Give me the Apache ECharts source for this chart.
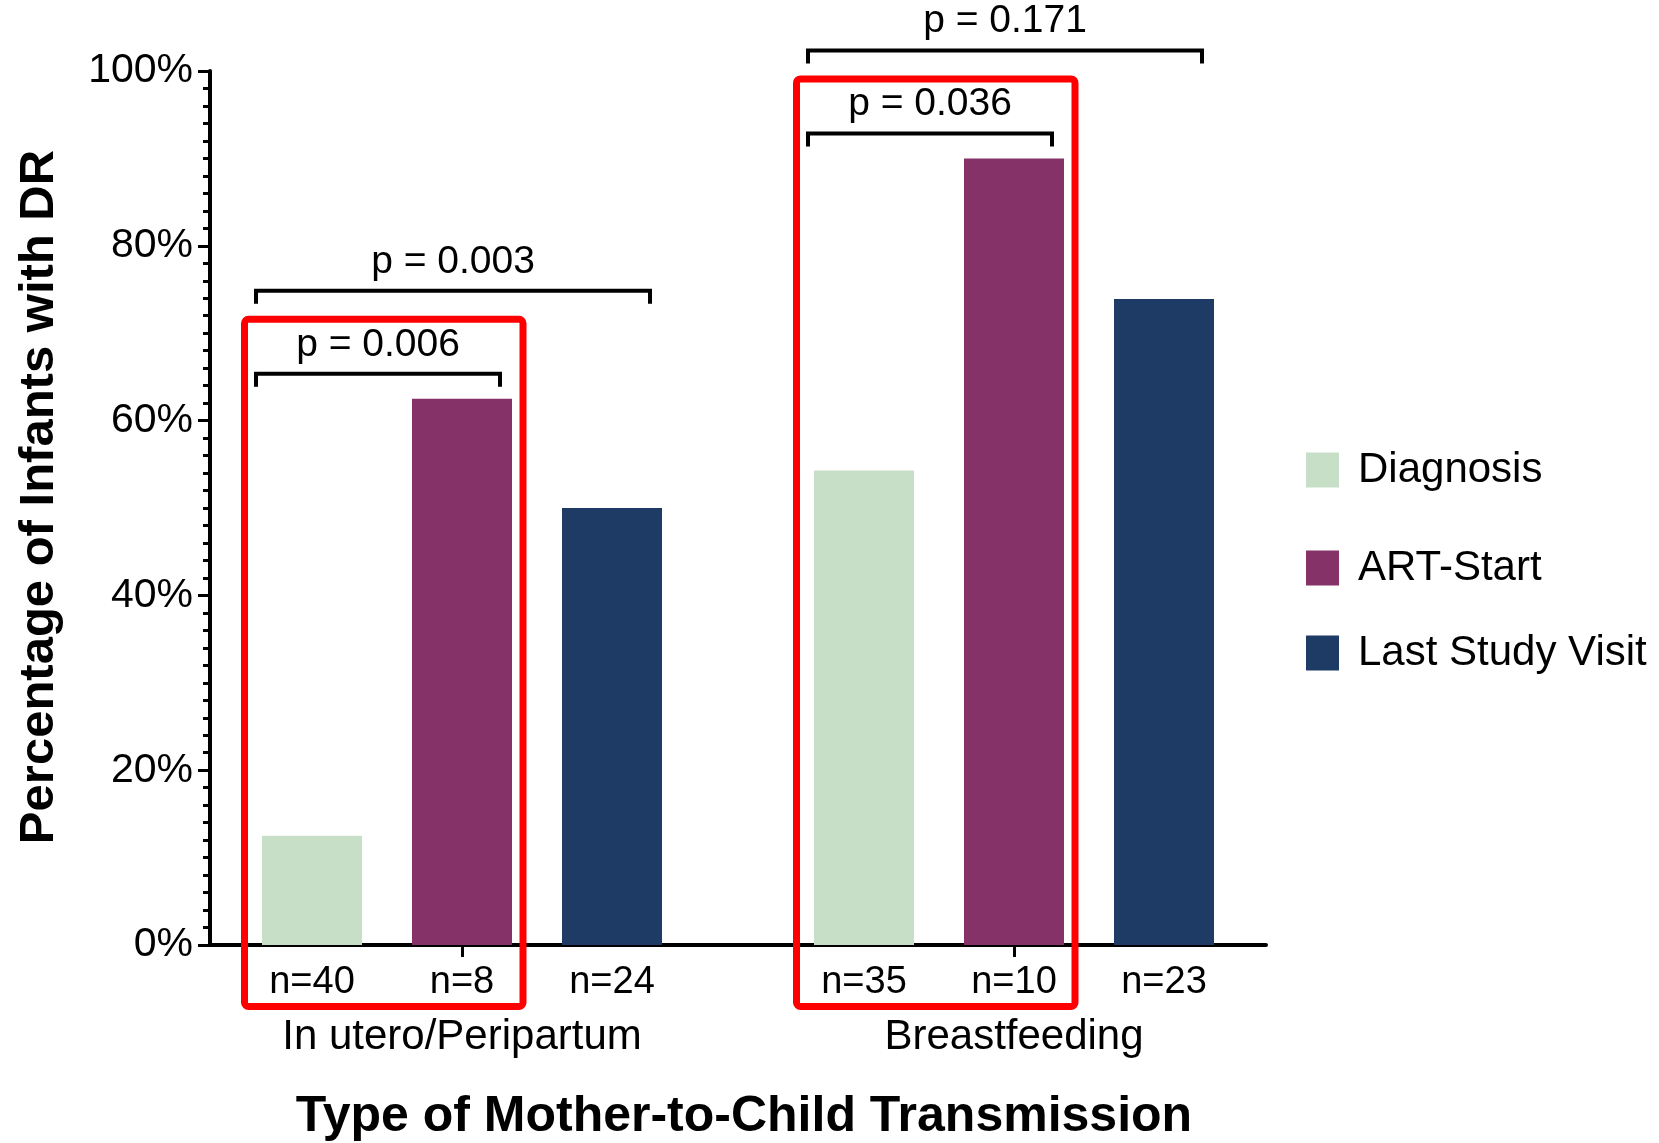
<!DOCTYPE html>
<html>
<head>
<meta charset="utf-8">
<script src="https://cdn.jsdelivr.net/npm/echarts@6/dist/echarts.min.js"></script>
<style>
  html, body { margin: 0; padding: 0; background: #ffffff; }
  #chart { width: 1659px; height: 1143px; }
</style>
</head>
<body>
<div id="chart"></div>
<script>
// ---- data ----
const groups = ['In utero/Peripartum', 'Breastfeeding'];
const seriesNames = ['Diagnosis', 'ART-Start', 'Last Study Visit'];
const diagnosisPct = [12.5, 54.3];
const artStartPct = [62.5, 90.0];
const lastVisitPct = [50.0, 73.9];
const diagnosisN = [40, 35];
const artStartN = [8, 10];
const lastVisitN = [24, 23];
const yTickValues = [0, 20, 40, 60, 80, 100];
// pairwise comparisons: group index, first / last series index, p-value text
const cmpGroup = [0, 0, 1, 1];
const cmpFrom = [0, 0, 0, 0];
const cmpTo = [1, 2, 1, 2];
const cmpText = ['p = 0.006', 'p = 0.003', 'p = 0.036', 'p = 0.171'];
// highlighted pairs framed in red: group index, first / last series index
const boxGroup = [0, 1];
const boxFrom = [0, 0];
const boxTo = [1, 1];

// ---- styling / layout ----
const FONT = "'Liberation Sans', Arial, Helvetica, sans-serif";
const COLORS = ['#C6DFC6', '#853268', '#1D3B64'];
const BAR_W = 100;          // bar width (px)
const BAR_STEP = 150;       // centre-to-centre distance of bars in a group (px)
const LEGEND_TOPS = [449, 547, 632];

const valuesBySeries = [diagnosisPct, artStartPct, lastVisitPct];
const countsBySeries = [diagnosisN, artStartN, lastVisitN];

function barCenterX(api, group, s) {
  const base = api.coord([group, 0]);
  return base[0] + (s - (valuesBySeries.length - 1) / 2) * BAR_STEP;
}
function highestTopY(api, group, from, to) {
  let m = 0;
  for (let s = from; s <= to; s++) m = Math.max(m, valuesBySeries[s][group]);
  return api.coord([group, m])[1];
}

const chart = echarts.init(document.getElementById('chart'), null, { renderer: 'canvas' });

const barSeries = seriesNames.map((name, s) => ({
  type: 'bar',
  name: name,
  xAxisIndex: 1,
  yAxisIndex: 1,
  data: valuesBySeries[s],
  barWidth: BAR_W,
  barGap: '50%',
  itemStyle: { color: COLORS[s] },
  label: {
    show: true,
    position: 'bottom',
    distance: 19,
    fontSize: 38,
    fontFamily: FONT,
    color: '#000',
    formatter: p => 'n=' + countsBySeries[s][p.dataIndex]
  },
  emphasis: { disabled: true }
}));

// significance brackets with their p-values
const bracketSeries = {
  type: 'custom',
  xAxisIndex: 1,
  yAxisIndex: 1,
  clip: false,
  silent: true,
  z: 5,
  data: cmpGroup.map(g => [g, 0]),
  renderItem: (params, api) => {
    const i = params.dataIndex;
    const g = cmpGroup[i], a = cmpFrom[i], b = cmpTo[i];
    const tier = b - a - 1;
    const y = highestTopY(api, g, a, b) - 25 - 83 * tier;
    const xl = barCenterX(api, g, a) - BAR_W / 2 - 6;
    const xr = barCenterX(api, g, b) + BAR_W / 2 - 12;
    return {
      type: 'group',
      children: [
        {
          type: 'polyline',
          shape: { points: [[xl, y + 13], [xl, y], [xr, y], [xr, y + 13]] },
          style: { stroke: '#000', lineWidth: 4, fill: 'none' }
        },
        {
          type: 'text',
          x: (xl + xr) / 2,
          y: y - 29,
          style: {
            text: cmpText[i], fontSize: 39, fontFamily: FONT, fill: '#000',
            align: 'center', verticalAlign: 'middle'
          }
        }
      ]
    };
  }
};

// red frames around the highlighted pairs
const frameSeries = {
  type: 'custom',
  xAxisIndex: 1,
  yAxisIndex: 1,
  clip: false,
  silent: true,
  z: 6,
  data: boxGroup.map(g => [g, 0]),
  renderItem: (params, api) => {
    const i = params.dataIndex;
    const g = boxGroup[i], a = boxFrom[i], b = boxTo[i];
    const top = highestTopY(api, g, a, b) - 25 - 54.5;
    const bottom = api.coord([g, 0])[1] + 61.5;
    const xl = barCenterX(api, g, a) - BAR_W / 2 - 17.5;
    const xr = barCenterX(api, g, b) + BAR_W / 2 + 11;
    return {
      type: 'rect',
      shape: { x: xl, y: top, width: xr - xl, height: bottom - top, r: 4 },
      style: { stroke: '#FF0000', lineWidth: 7, fill: 'none' }
    };
  }
};

const option = {
  animation: false,
  backgroundColor: '#ffffff',
  textStyle: { fontFamily: FONT, color: '#000' },
  grid: [
    { left: 210, right: 393, top: 71, bottom: 198, containLabel: false, outerBoundsMode: 'none' },
    { left: 186, right: 369, top: 71, bottom: 198, containLabel: false, outerBoundsMode: 'none' }
  ],
  legend: seriesNames.map((name, s) => ({
    data: [name],
    left: 1306,
    top: LEGEND_TOPS[s],
    padding: 0,
    orient: 'vertical',
    icon: 'rect',
    itemWidth: 33,
    itemHeight: 35,
    selectedMode: false,
    textStyle: { fontSize: 42, fontFamily: FONT, color: '#000', lineHeight: 35, padding: [0, 0, 0, 14] }
  })),
  xAxis: [
    {
      gridIndex: 0,
      type: 'category',
      data: groups,
      axisLine: { lineStyle: { color: '#000', width: 4 } },
      axisTick: { show: false },
      axisLabel: { show: false },
      splitLine: { show: false },
      name: 'Type of Mother-to-Child Transmission',
      nameLocation: 'middle',
      nameGap: 147,
      nameTextStyle: { fontSize: 50, fontWeight: 'bold', fontFamily: FONT, color: '#000', padding: [0, 0, 0, 12] }
    },
    {
      gridIndex: 1,
      type: 'category',
      data: groups,
      axisLine: { show: false },
      axisTick: { show: true, alignWithLabel: true, length: 12, lineStyle: { color: '#000', width: 3 } },
      axisLabel: { margin: 71, fontSize: 42, fontFamily: FONT, color: '#000' },
      splitLine: { show: false }
    }
  ],
  yAxis: [
    {
      gridIndex: 0,
      type: 'value',
      min: yTickValues[0],
      max: yTickValues[yTickValues.length - 1],
      interval: yTickValues[1] - yTickValues[0],
      axisLine: { show: true, lineStyle: { color: '#000', width: 4 } },
      axisTick: { show: true, length: 12, lineStyle: { color: '#000', width: 3 } },
      minorTick: { show: true, splitNumber: 10, length: 7, lineStyle: { color: '#000', width: 3 } },
      axisLabel: { formatter: '{value}%', fontSize: 41, fontFamily: FONT, color: '#000', margin: 17 },
      splitLine: { show: false },
      name: 'Percentage of Infants with DR',
      nameLocation: 'middle',
      nameRotate: 90,
      nameGap: 146,
      nameTextStyle: { fontSize: 49, fontWeight: 'bold', fontFamily: FONT, color: '#000', padding: [0, 0, 0, 22] }
    },
    {
      gridIndex: 1,
      type: 'value',
      min: yTickValues[0],
      max: yTickValues[yTickValues.length - 1],
      show: false
    }
  ],
  series: [...barSeries, bracketSeries, frameSeries]
};

chart.setOption(option);
</script>
</body>
</html>
